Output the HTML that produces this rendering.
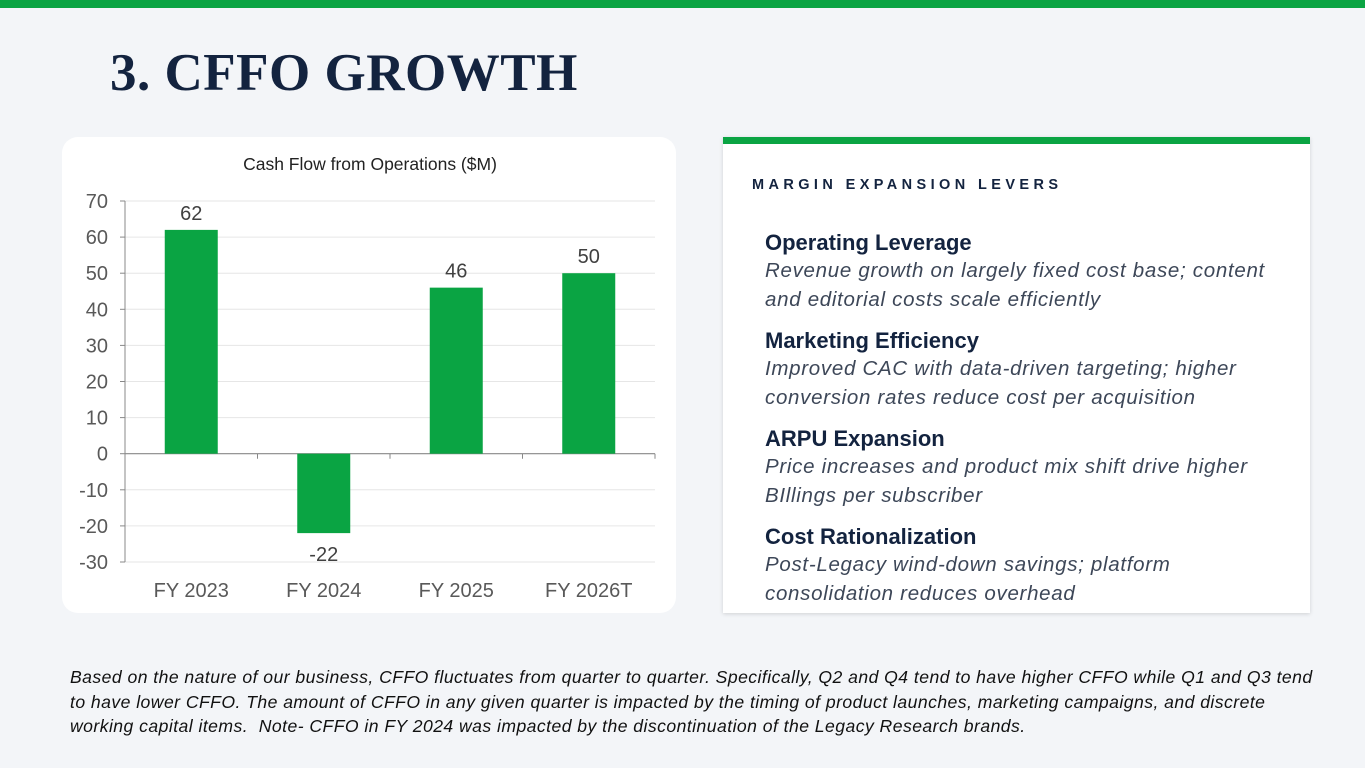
<!DOCTYPE html>
<html><head><meta charset="utf-8"><style>
body{margin:0;width:1365px;height:768px;background:#f3f5f8;position:relative;overflow:hidden;font-family:"Liberation Sans",sans-serif}
.topbar{position:absolute;left:0;top:0;width:1365px;height:8px;background:#0aa443}
h1{position:absolute;left:110px;top:43px;margin:0;font-family:"Liberation Serif",serif;font-weight:bold;font-size:53px;color:#13233f;letter-spacing:0.5px}
.chartcard{position:absolute;left:62px;top:137px;width:614px;height:476px;background:#fff;border-radius:16px}
.panel{position:absolute;left:723px;top:137px;width:587px;height:476px;background:#fff;box-shadow:0 1px 4px rgba(0,0,0,0.15)}
.panel .gb{height:7px;background:#0aa443}
.ptitle{position:absolute;left:29px;top:40px;font-size:14.5px;font-weight:bold;letter-spacing:4.4px;color:#13233f}
.item{position:absolute;left:42px;width:545px}
.item b{display:block;font-size:22px;color:#13233f;line-height:26px}
.item i{display:block;font-size:20.5px;color:#3d4758;line-height:29px;letter-spacing:0.7px}
.note{position:absolute;left:70px;top:665px;width:1290px;font-style:italic;font-size:17.6px;line-height:24.5px;color:#111;letter-spacing:0.45px;white-space:nowrap}
</style></head><body>
<div class="topbar"></div>
<h1>3. CFFO GROWTH</h1>
<div class="chartcard">
<svg id="chart" width="614" height="476"></svg>
</div>
<div class="panel">
<div class="gb"></div>
<div class="ptitle">MARGIN EXPANSION LEVERS</div>
<div class="item" style="top:93px"><b>Operating Leverage</b><i>Revenue growth on largely fixed cost base; content<br>and editorial costs scale efficiently</i></div>
<div class="item" style="top:191px"><b>Marketing Efficiency</b><i>Improved CAC with data-driven targeting; higher<br>conversion rates reduce cost per acquisition</i></div>
<div class="item" style="top:289px"><b>ARPU Expansion</b><i>Price increases and product mix shift drive higher<br>BIllings per subscriber</i></div>
<div class="item" style="top:387px"><b>Cost Rationalization</b><i>Post-Legacy wind-down savings; platform<br>consolidation reduces overhead</i></div>
</div>
<div class="note">Based on the nature of our business, CFFO fluctuates from quarter to quarter. Specifically, Q2 and Q4 tend to have higher CFFO while Q1 and Q3 tend<br>to have lower CFFO. The amount of CFFO in any given quarter is impacted by the timing of product launches, marketing campaigns, and discrete<br>working capital items.&nbsp; Note- CFFO in FY 2024 was impacted by the discontinuation of the Legacy Research brands.</div>
<script>
const categories=["FY 2023","FY 2024","FY 2025","FY 2026T"];
const values=[62,-22,46,50];
const yTicks=[70,60,50,40,30,20,10,0,-10,-20,-30];
const NS="http://www.w3.org/2000/svg";
const svg=document.getElementById('chart');
const ox=62,oy=137;
const x0=125-ox,x1=655-ox,yTop=201-oy,yBot=562-oy,vMin=-30,vMax=70;
const y=v=>yTop+(vMax-v)/(vMax-vMin)*(yBot-yTop);
const band=(x1-x0)/categories.length;
const xc=i=>x0+band*(i+0.5);
function mk(t,a,txt){const e=document.createElementNS(NS,t);for(const k in a)e.setAttribute(k,a[k]);if(txt!==undefined)e.textContent=txt;svg.appendChild(e);return e;}
let e=mk('text',{x:370-ox,y:170-oy,'text-anchor':'middle','font-size':17.5,fill:'#222','font-family':'Liberation Sans'},'Cash Flow from Operations ($M)');

yTicks.forEach(t=>{
 if(t!==0){const g=mk('line',{x1:x0,x2:x1,y1:y(t),y2:y(t),stroke:'#e6e6e6','stroke-width':1});}
 const l=mk('text',{x:x0-17,y:y(t)+7,'text-anchor':'end','font-size':20,fill:'#595959'},String(t));
 
 mk('line',{x1:x0-5,x2:x0,y1:y(t),y2:y(t),stroke:'#888'});
});
mk('line',{x1:x0,x2:x0,y1:yTop,y2:yBot,stroke:'#888'});
const za=mk('line',{x1:x0,x2:x1,y1:y(0),y2:y(0),stroke:'#888','stroke-width':1.2});

for(let i=0;i<=categories.length;i++)mk('line',{x1:x0+band*i,x2:x0+band*i,y1:y(0),y2:y(0)+5,stroke:'#888'});
const bw=53;
values.forEach((v,i)=>{
 const r=mk('rect',{x:xc(i)-bw/2,y:Math.min(y(v),y(0)),width:bw,height:Math.abs(y(v)-y(0)),fill:'#0aa443'});
 
 
 const ly=v>=0?y(v)-10:y(v)+28;
 const t=mk('text',{x:xc(i),y:ly,'text-anchor':'middle','font-size':20,fill:'#404040'},String(v));
 
 const c=mk('text',{x:xc(i),y:yBot+35,'text-anchor':'middle','font-size':20,fill:'#595959'},categories[i]);
 
});
</script>
</body></html>
